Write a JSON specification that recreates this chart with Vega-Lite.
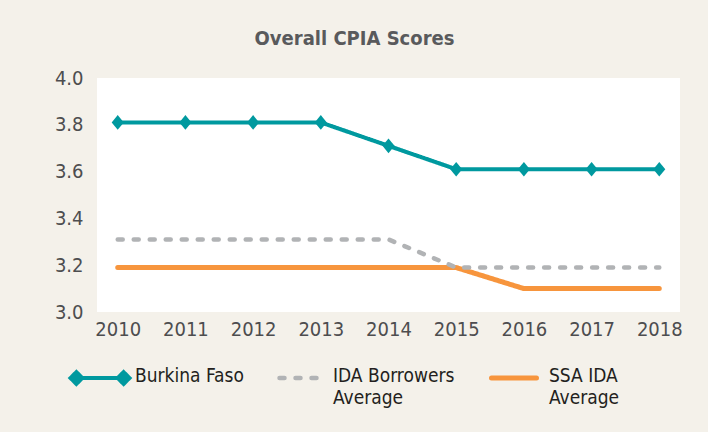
{
  "$schema": "https://vega.github.io/schema/vega-lite/v6.json",
  "width": 583,
  "height": 234,
  "autosize": {"type": "none"},
  "padding": {"left": 97, "top": 78, "right": 28, "bottom": 120},
  "background": "#f4f1ea",
  "config": {
    "view": {"fill": "#ffffff", "stroke": null},
    "font": "Liberation Sans Narrow, DejaVu Sans Condensed, sans-serif"
  },
  "title": {
    "text": "Overall CPIA Scores",
    "font": "Liberation Sans Narrow, DejaVu Sans Condensed, sans-serif",
    "fontSize": 20,
    "fontWeight": "bold",
    "color": "#595a5c",
    "anchor": "middle",
    "dx": -34,
    "baseline": "bottom",
    "offset": -1
  },
  "data": {
    "values": [
      {"year": "2010", "series": "SSA IDA Average", "value": 3.19},
      {"year": "2011", "series": "SSA IDA Average", "value": 3.19},
      {"year": "2012", "series": "SSA IDA Average", "value": 3.19},
      {"year": "2013", "series": "SSA IDA Average", "value": 3.19},
      {"year": "2014", "series": "SSA IDA Average", "value": 3.19},
      {"year": "2015", "series": "SSA IDA Average", "value": 3.19},
      {"year": "2016", "series": "SSA IDA Average", "value": 3.1},
      {"year": "2017", "series": "SSA IDA Average", "value": 3.1},
      {"year": "2018", "series": "SSA IDA Average", "value": 3.1},
      {"year": "2010", "series": "IDA Borrowers Average", "value": 3.31},
      {"year": "2011", "series": "IDA Borrowers Average", "value": 3.31},
      {"year": "2012", "series": "IDA Borrowers Average", "value": 3.31},
      {"year": "2013", "series": "IDA Borrowers Average", "value": 3.31},
      {"year": "2014", "series": "IDA Borrowers Average", "value": 3.31},
      {"year": "2015", "series": "IDA Borrowers Average", "value": 3.19},
      {"year": "2016", "series": "IDA Borrowers Average", "value": 3.19},
      {"year": "2017", "series": "IDA Borrowers Average", "value": 3.19},
      {"year": "2018", "series": "IDA Borrowers Average", "value": 3.19},
      {"year": "2010", "series": "Burkina Faso", "value": 3.81},
      {"year": "2011", "series": "Burkina Faso", "value": 3.81},
      {"year": "2012", "series": "Burkina Faso", "value": 3.81},
      {"year": "2013", "series": "Burkina Faso", "value": 3.81},
      {"year": "2014", "series": "Burkina Faso", "value": 3.71},
      {"year": "2015", "series": "Burkina Faso", "value": 3.61},
      {"year": "2016", "series": "Burkina Faso", "value": 3.61},
      {"year": "2017", "series": "Burkina Faso", "value": 3.61},
      {"year": "2018", "series": "Burkina Faso", "value": 3.61}
    ]
  },
  "encoding": {
    "x": {
      "field": "year",
      "type": "ordinal",
      "scale": {"type": "point", "padding": 0.306},
      "axis": {
        "title": null,
        "labelAngle": 0,
        "domain": false,
        "ticks": false,
        "grid": false,
        "labelPadding": 7,
        "labelFontSize": 20,
        "labelColor": "#4d4d4f",
        "labelFont": "Liberation Sans Narrow, DejaVu Sans Condensed, sans-serif"
      }
    },
    "y": {
      "field": "value",
      "type": "quantitative",
      "scale": {"domain": [3, 4], "nice": false, "zero": false},
      "axis": {
        "title": null,
        "values": [3, 3.2, 3.4, 3.6, 3.8, 4.0],
        "format": ".1f",
        "domain": false,
        "ticks": false,
        "grid": false,
        "labelPadding": 14,
        "labelFontSize": 20,
        "labelColor": "#4d4d4f",
        "labelFont": "Liberation Sans Narrow, DejaVu Sans Condensed, sans-serif"
      }
    }
  },
  "layer": [
    {
      "mark": {"type": "line", "strokeCap": "round", "strokeJoin": "round"},
      "encoding": {
        "color": {
          "field": "series",
          "type": "nominal",
          "sort": null,
          "scale": {
            "domain": ["Burkina Faso", "IDA Borrowers Average", "SSA IDA Average"],
            "range": ["#00999f", "#b1b3b5", "#f7953d"]
          },
          "legend": {
            "title": null,
            "orient": "none",
            "legendX": -22,
            "legendY": 289,
            "direction": "horizontal",
            "columns": 3,
            "columnPadding": 26,
            "symbolType": "stroke",
            "symbolSize": 3481,
            "labelOffset": 10,
            "labelFontSize": 19,
            "labelColor": "#231f20",
            "labelFont": "Liberation Sans Narrow, DejaVu Sans Condensed, sans-serif",
            "labelLimit": 300,
            "labelExpr": "datum.label == 'IDA Borrowers Average' ? ['IDA Borrowers', 'Average'] : datum.label == 'SSA IDA Average' ? ['SSA IDA', 'Average'] : [datum.label, ' ']",
            "encode": {
              "symbols": {
                "update": {
                  "y": {"value": 11},
                  "shape": {"signal": "datum.value == 'Burkina Faso' ? 'M-0.8,0L0.8,0M-1,0L-0.8,-0.2L-0.6,0L-0.8,0.2ZM1,0L0.8,-0.2L0.6,0L0.8,0.2Z' : 'stroke'"},
                  "size": {"signal": "datum.value == 'Burkina Faso' ? 3481 : datum.value == 'IDA Borrowers Average' ? 1369 : 2025"},
                  "fill": {"signal": "datum.value == 'Burkina Faso' ? '#00999f' : 'transparent'"},
                  "fillOpacity": {"value": 1},
                  "strokeWidth": {"signal": "datum.value == 'Burkina Faso' ? 4 : datum.value == 'IDA Borrowers Average' ? 5 : 7"},
                  "strokeDash": {"signal": "datum.value == 'IDA Borrowers Average' ? [5, 11] : [1, 0]"},
                  "strokeCap": {"value": "round"}
                }
              },
              "labels": {
                "update": {
                  "lineHeight": {"value": 22},
                  "baseline": {"value": "top"},
                  "y": {"value": 0}
                }
              }
            }
          }
        },
        "strokeDash": {
          "field": "series",
          "type": "nominal",
          "scale": {
            "domain": ["Burkina Faso", "IDA Borrowers Average", "SSA IDA Average"],
            "range": [[1, 0], [5, 11], [1, 0]]
          },
          "legend": null
        },
        "strokeWidth": {
          "field": "series",
          "type": "nominal",
          "scale": {
            "domain": ["Burkina Faso", "IDA Borrowers Average", "SSA IDA Average"],
            "range": [4, 5, 7]
          },
          "legend": null
        }
      }
    },
    {
      "transform": [{"filter": "datum.series == 'Burkina Faso'"}],
      "mark": {
        "type": "point",
        "shape": "M0,-1L0.82,0L0,1L-0.82,0Z",
        "size": 216,
        "filled": true,
        "opacity": 1,
        "color": "#00999f"
      }
    }
  ]
}
